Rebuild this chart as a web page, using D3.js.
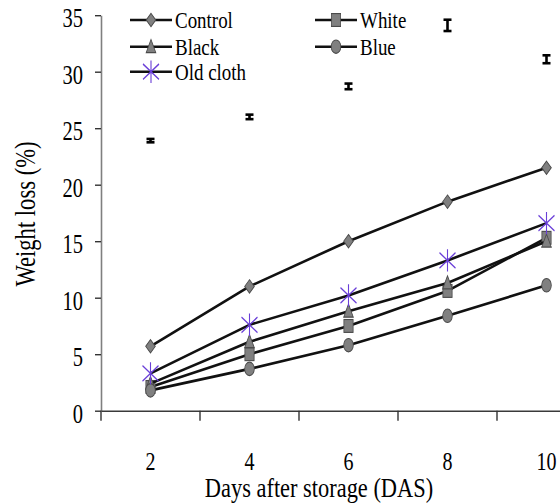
<!DOCTYPE html>
<html>
<head>
<meta charset="utf-8">
<script src="https://cdn.jsdelivr.net/npm/d3@7"></script>
<style>
  html, body { margin: 0; padding: 0; background: #fff; }
  svg { display: block; }
  svg text { font-family: "Liberation Serif", "DejaVu Serif", serif !important; fill: #000; }
</style>
</head>
<body>
<svg id="chart" width="560" height="503"></svg>
<script>
// Storage days (category axis)
const days = ["2", "4", "6", "8", "10"];

// Weight loss (%) per treatment
const control  = [5.7, 11.0, 15.0, 18.5, 21.5];
const white    = [2.1, 5.0, 7.5, 10.6, 15.3];
const black    = [2.4, 6.1, 8.8, 11.3, 15.0];
const blue     = [1.8, 3.7, 5.8, 8.4, 11.1];
const oldCloth = [3.3, 7.6, 10.2, 13.3, 16.6];

// Error-bar-only series (no line or marker)
const barMean = [23.9, 26.0, 28.7, 34.1, 31.1];
const barErr  = [0.15, 0.2, 0.25, 0.5, 0.35];

const yTicks = [0, 5, 10, 15, 20, 25, 30, 35];

const seriesNames = ["Control", "White", "Black", "Blue", "Old cloth"];
const seriesValues = [control, white, black, blue, oldCloth];
const seriesMarkers = ["diamond", "square", "triangle", "circle", "star"];

const SERIF = "'Liberation Serif', 'DejaVu Serif', serif";
const svg = d3.select("#chart");

const x = d3.scaleBand().domain(days).range([101, 596]).padding(0);
const y = d3.scaleLinear().domain([0, 35]).range([410.7, 15.2]);
const cx = d => x(d) + x.bandwidth() / 2;

// condensed lettering: narrow the text along its own baseline
function squeeze(sel, k) {
  sel.each(function () {
    const t = d3.select(this);
    const tx = +t.attr("x") || 0, ty = +t.attr("y") || 0;
    t.attr("transform", `translate(${tx},${ty}) scale(${k},1) translate(${-tx},${-ty})`);
  });
}

// ---- y axis
const yAxis = svg.append("g")
  .attr("transform", "translate(101,0)")
  .call(d3.axisLeft(y).tickValues(yTicks).tickSize(6).tickSizeOuter(0).tickPadding(12));
yAxis.attr("font-family", SERIF);
yAxis.select(".domain").attr("stroke", "#7f7f7f").attr("stroke-width", 1.6);
yAxis.selectAll(".tick line").attr("stroke", "#333").attr("stroke-width", 1.4);
yAxis.selectAll(".tick text")
  .style("font-family", SERIF)
  .attr("font-size", 27)
  .attr("dy", "0.43em")
  .call(squeeze, 0.76);

// ---- x axis
const xAxis = svg.append("g")
  .attr("transform", `translate(0,${y(0)})`)
  .call(d3.axisBottom(x).tickSize(0).tickSizeOuter(0).tickPadding(59));
xAxis.attr("font-family", SERIF);
xAxis.select(".domain").attr("stroke", "#3a3a3a").attr("stroke-width", 1.6);
xAxis.selectAll(".tick text")
  .style("font-family", SERIF)
  .attr("font-size", 25)
  .attr("dy", "0em")
  .call(squeeze, 0.8);
// tick marks sit on the category boundaries
xAxis.selectAll("line.boundary")
  .data(days)
  .join("line")
  .attr("class", "boundary")
  .attr("x1", d => x(d)).attr("x2", d => x(d))
  .attr("y1", 0).attr("y2", 10)
  .attr("stroke", "#333").attr("stroke-width", 1.4);

// ---- axis titles
svg.append("text")
  .attr("x", 319).attr("y", 497)
  .attr("text-anchor", "middle")
  .style("font-family", SERIF)
  .attr("font-size", 27)
  .text("Days after storage (DAS)")
  .call(squeeze, 0.83);

svg.append("g")
  .attr("transform", "translate(35,214) rotate(-90)")
  .append("text")
  .attr("x", 0).attr("y", 0)
  .attr("text-anchor", "middle")
  .style("font-family", SERIF)
  .attr("font-size", 29)
  .text("Weight loss (%)")
  .call(squeeze, 0.78);

// ---- markers
const MARK_FILL = "#808080", MARK_STROKE = "#4a4a4a", STAR = "#6a3fd8";
function drawMarker(g, type, px, py) {
  const m = g.append("g").attr("transform", `translate(${px},${py}) scale(1,1.4)`);
  if (type === "diamond") {
    m.append("path").attr("d", "M0,-4.8L4.8,0L0,4.8L-4.8,0Z")
      .attr("fill", MARK_FILL).attr("stroke", MARK_STROKE).attr("stroke-width", 0.8);
  } else if (type === "square") {
    m.append("rect").attr("x", -4.6).attr("y", -4.6).attr("width", 9.2).attr("height", 9.2)
      .attr("fill", MARK_FILL).attr("stroke", MARK_STROKE).attr("stroke-width", 0.8);
  } else if (type === "triangle") {
    m.append("path").attr("d", "M0,-5.2L4.8,4.2L-4.8,4.2Z")
      .attr("fill", MARK_FILL).attr("stroke", MARK_STROKE).attr("stroke-width", 0.8);
  } else if (type === "circle") {
    m.append("circle").attr("r", 4.8)
      .attr("fill", MARK_FILL).attr("stroke", MARK_STROKE).attr("stroke-width", 0.8);
  } else if (type === "star") {
    m.append("path").attr("d", "M0,-8L0,8M-8,-5.5L8,5.5M-8,5.5L8,-5.5")
      .attr("fill", "none").attr("stroke", STAR).attr("stroke-width", 1.1);
  }
}

// ---- series
const line = d3.line().x((d, i) => cx(days[i])).y(d => y(d));
const plot = svg.append("g");
seriesValues.forEach((vals, s) => {
  const g = plot.append("g");
  g.append("path")
    .attr("d", line(vals))
    .attr("fill", "none")
    .attr("stroke", "#111")
    .attr("stroke-width", 2.6)
    .attr("stroke-linejoin", "round");
  vals.forEach((v, i) => drawMarker(g, seriesMarkers[s], cx(days[i]), y(v)));
});

// ---- error bars
const eb = svg.append("g").attr("stroke", "#000").attr("stroke-width", 2.6);
barMean.forEach((m, i) => {
  const px = cx(days[i]);
  const y1 = y(m - barErr[i]), y2 = y(m + barErr[i]);
  eb.append("line").attr("x1", px).attr("x2", px).attr("y1", y1).attr("y2", y2);
  eb.append("line").attr("x1", px - 4).attr("x2", px + 4).attr("y1", y1).attr("y2", y1);
  eb.append("line").attr("x1", px - 4).attr("x2", px + 4).attr("y1", y2).attr("y2", y2);
});

// ---- legend
const legendPos = [
  { lx: 130, ty: 20 }, { lx: 315, ty: 20 },
  { lx: 130, ty: 46.7 }, { lx: 315, ty: 46.7 },
  { lx: 130, ty: 71.7 }
];
const legend = svg.append("g");
seriesNames.forEach((name, s) => {
  const p = legendPos[s];
  const g = legend.append("g");
  g.append("line")
    .attr("x1", p.lx).attr("x2", p.lx + 42)
    .attr("y1", p.ty).attr("y2", p.ty)
    .attr("stroke", "#111").attr("stroke-width", 2.6);
  drawMarker(g, seriesMarkers[s], p.lx + 21, p.ty);
  g.append("text")
    .attr("x", p.lx + 45).attr("y", p.ty + 8.3)
    .style("font-family", SERIF)
    .attr("font-size", 24)
    .text(name)
    .call(squeeze, 0.79);
});
</script>
</body>
</html>
